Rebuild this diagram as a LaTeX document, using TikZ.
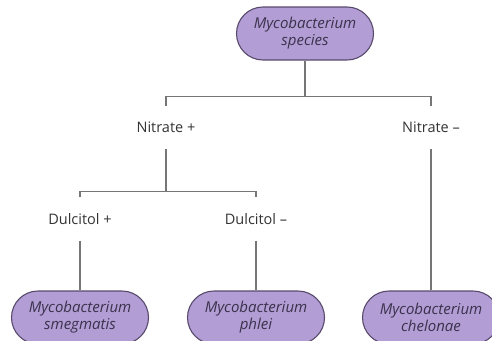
\documentclass[tikz,border=0pt]{standalone}
\usepackage{fontspec}
\setmainfont{Open Sans}
\usepackage{xcolor}
\usetikzlibrary{shapes.misc}
\definecolor{bugfill}{RGB}{178,157,212}
\definecolor{bugline}{RGB}{88,74,108}
\definecolor{bugtext}{RGB}{58,50,76}
\definecolor{linkgray}{RGB}{118,118,118}
\tikzset{
  bug/.style={rounded rectangle,draw=bugline,line width=1.1pt,fill=bugfill,text=bugtext,
    minimum width=141pt,minimum height=53pt,align=center,font=\fontsize{15}{17}\selectfont\itshape,inner sep=2pt},
  test/.style={minimum height=43pt,inner sep=0pt,text=black!80,font=\fontsize{14.5}{16}\selectfont},
  link/.style={draw=linkgray,line width=1.1pt}
}
\begin{document}
\begin{tikzpicture}[x=1pt,y=1pt]
  \useasboundingbox (0,0) rectangle (492,-340);
  \begin{scope}
  \clip (0,0) rectangle (492,-340);
  \node[bug] (sp) at (305,-33.5) {Mycobacterium\\species};
  \node[test] (nplus) at (166,-127.5) {Nitrate +}; \node[test] (nminus) at (431,-127.5) {Nitrate --};
  \node[test] (dplus) at (80,-219) {Dulcitol +}; \node[test] (dminus) at (256,-219) {Dulcitol --};
  \node[bug] (smeg) at (80,-317.5) {Mycobacterium\\smegmatis};
  \node[bug] (phlei) at (256,-317.5) {Mycobacterium\\phlei};
  \node[bug] (chel) at (431,-317.5) {Mycobacterium\\chelonae};
  % first split
  \draw[link] (nplus.north) -- ++(0,9) coordinate (j1) -| (nminus.north);
  \draw[link] (sp.south) -- (sp.south |- j1);
  % second split
  \draw[link] (dplus.north) -- ++(0,6) coordinate (j2) -| (dminus.north);
  \draw[link] (nplus.south) -- (nplus.south |- j2);
  % down to species
  \draw[link] (dplus.south) -- (smeg.north); \draw[link] (dminus.south) -- (phlei.north);
  \draw[link] (nminus.south) -- (chel.north);
  \end{scope}
\end{tikzpicture}
\end{document}
